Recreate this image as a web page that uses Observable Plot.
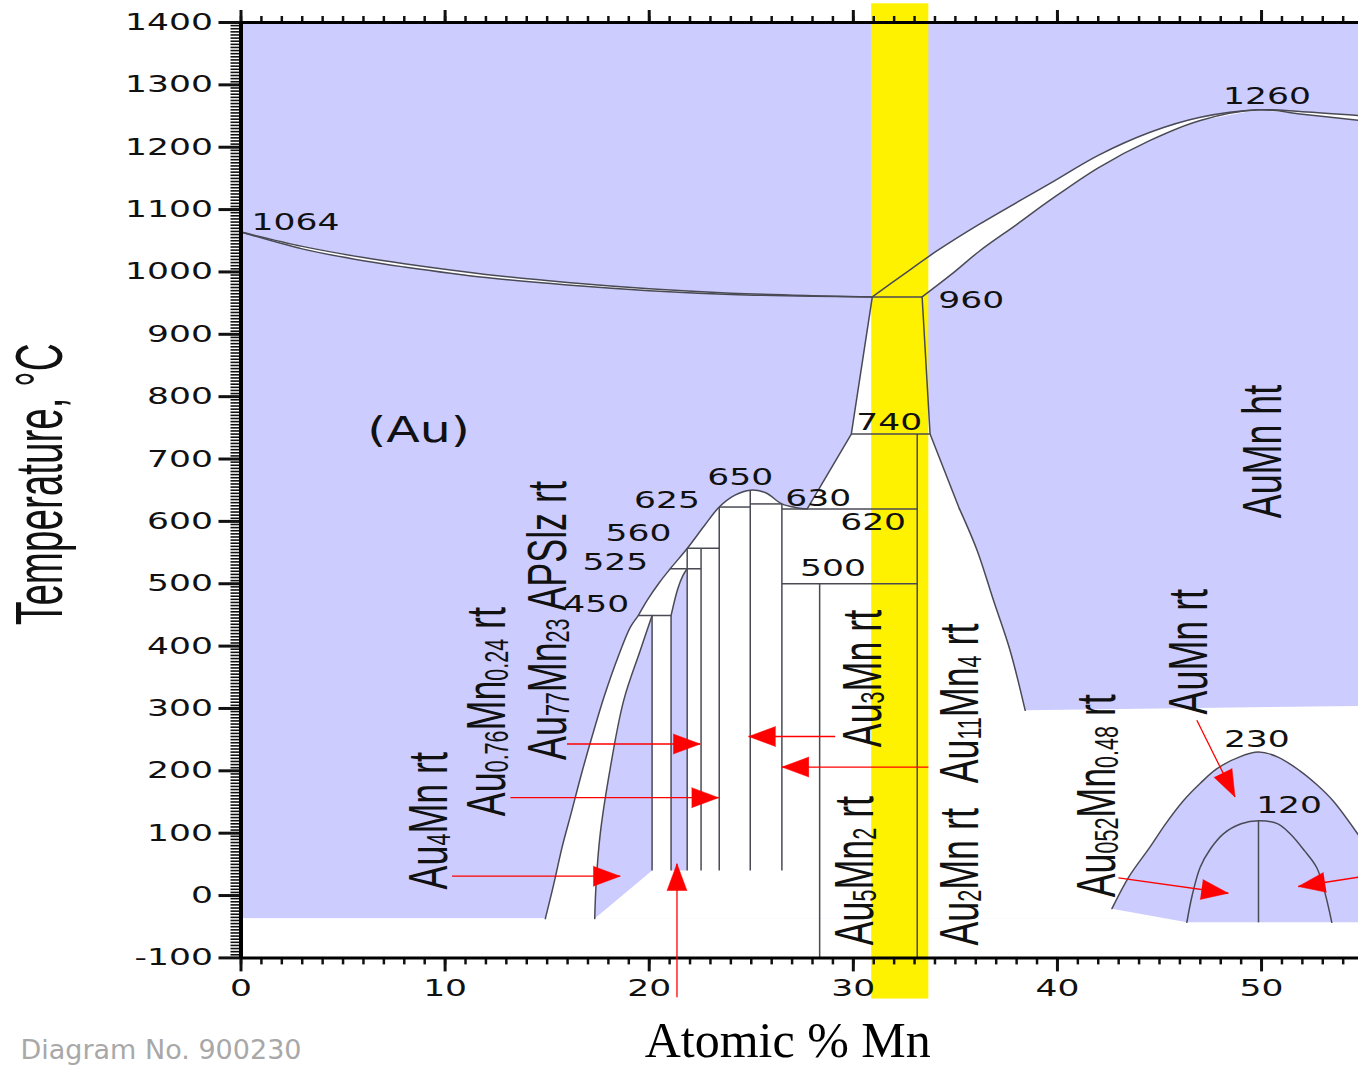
<!DOCTYPE html>
<html><head><meta charset="utf-8">
<script src="https://cdn.jsdelivr.net/npm/d3@7"></script>
<script src="https://cdn.jsdelivr.net/npm/@observablehq/plot@0.6"></script>
<style>html,body{margin:0;padding:0;background:#fff;overflow:hidden} svg{display:block}</style>
</head><body><div id="chart"></div>
<script>
// ---------- scale extents ----------
const xMax = 54.75;
const tMin = -100, tMax = 1400;

// ---------- region fills ----------
const bgX = [0, xMax];            // purple background
const bgT = [-37, 1400];
const yellowX = [30.9, 33.7];     // highlighted band
const yellowT = [-166, 1430];

// (Au) liquidus / solidus (left lens)
const auLiqX = [0, 3, 6, 8, 12, 16, 20, 24, 28, 30.93];
const auLiqT = [1064, 1041, 1023, 1013, 996, 983, 973, 966, 962, 960];
const auSolX = [0, 3, 6, 8, 12, 16, 20, 24, 28, 30.93];
const auSolT = [1064, 1037, 1018, 1008, 991, 979, 970, 964, 961, 960];

// AuMn ht liquidus / solidus (right lens)
const htLiqX = [30.93, 32.5, 34.11, 36.2, 39.64, 42.0, 44.54, 47.0, 49.85, 52.0, 54.75];
const htLiqT = [960, 997, 1034, 1077, 1142, 1187, 1224, 1248, 1260, 1257, 1251];
const htSolX = [33.37, 34.8, 36.2, 38.0, 39.64, 42.0, 44.54, 47.0, 49.85, 52.0, 54.75];
const htSolT = [960, 996, 1034, 1076, 1115, 1167, 1211, 1243, 1260, 1253, 1243];

// outer (Au) boundary of the ordered dome
const domeAX = [14.91, 15.3, 15.75, 16.2, 16.63, 17.2, 17.8, 18.5, 19.07, 19.46, 19.89, 20.5, 21.03, 21.87, 22.7, 23.43, 24.2, 24.95, 25.7, 26.5, 27.2, 27.74];
const domeAT = [-37, 15, 80, 135, 189, 255, 320, 385, 430, 449, 473, 502, 524, 557, 593, 623, 642, 650, 646, 628, 622, 620];
// (Au) boundary up to 960
const auEdgeX = [27.74, 29.9, 30.93];
const auEdgeT = [620, 740, 960];
// AuMn ht boundary from 960 down to ~300
const htEdgeX = [33.37, 33.76, 35.2, 36.07, 36.87, 37.68, 38.42];
const htEdgeT = [960, 740, 620, 553, 473, 393, 297];
const htBaseX = [54.75, 54.75];
const htBaseT = [304, -37];

// inner curve (purple pocket 1)
const p1X = [17.33, 17.4, 17.6, 18.1, 18.75, 19.56, 20.14];
const p1T = [-37, 20, 99, 206, 313, 393, 449];
const p1BaseX = [20.14];
const p1BaseT = [40];
// purple pocket 2
const p2X = [21.07, 21.4, 21.65, 21.86];
const p2T = [449, 492, 513, 524];
const p2BaseX = [21.86, 21.07];
const p2BaseT = [40, 40];

// AuMn rt dome (outer 230, inner 120)
const rtOuterX = [42.67, 43.5, 44.54, 45.3, 46.17, 47.0, 47.8, 48.9, 49.85, 50.8, 51.88, 52.7, 53.5, 54.75];
const rtOuterT = [-21, 30, 78, 115, 152, 180, 203, 222, 230, 222, 200, 178, 152, 97];
const rtBaseX = [54.75, 46.34];
const rtBaseT = [-43, -43];
const rtInnerX = [46.34, 46.6, 46.99, 47.5, 48.13, 49.0, 49.85, 50.8, 51.4, 52.1, 52.7, 53.1, 53.44];
const rtInnerT = [-43, 0, 45, 75, 99, 115, 120, 115, 99, 72, 45, 5, -43];

// horizontal invariant lines
const hX1 = [30.93, 29.9, 26.5, 26.5, 24.95, 23.43, 21.86, 21.03, 19.46];
const hX2 = [33.37, 33.76, 33.13, 33.13, 26.5, 24.95, 23.43, 22.54, 21.07];
const hT  = [960, 740, 620, 500, 628, 623, 557, 524, 449];
// vertical compound lines
const vX  = [20.14, 21.07, 21.86, 22.54, 23.43, 24.95, 26.5, 28.35, 33.13, 49.85];
const vT1 = [449, 449, 557, 557, 623, 650, 628, 500, 740, 120];
const vT2 = [40, 40, 40, 40, 40, 40, 40, -100, -100, -43];

// red arrows
const arrX1 = [10.34, 13.2, 15.97, 21.36, 29.11, 33.68, 46.83, 42.99, 54.73];
const arrT1 = [31, 157, 243, -163, 255, 206, 281, 28.4, 29.4];
const arrX2 = [18.58, 23.4, 22.5, 21.36, 24.87, 26.5, 48.7, 48.37, 51.8];
const arrT2 = [31, 157, 243, 51, 255, 206, 158, 3.7, 14.5];

// numeric labels
const numText = ["1064", "960", "1260", "740", "650", "625", "630", "620", "560", "525", "450", "500", "230", "120"];
const numX = [2.67, 35.78, 50.27, 31.76, 24.46, 20.87, 28.28, 30.97, 19.47, 18.34, 17.4, 29.0, 49.77, 51.35];
const numT = [1079, 954, 1281, 759, 670, 633, 637, 598, 581, 534, 467, 524, 250, 144];

// phase labels (rotated); {..} = subscript
const phaseText = ["Au{4}Mn rt", "Au{0.76}Mn{0.24} rt", "Au{77}Mn{23} APSlz rt", "Au{3}Mn rt", "Au{5}Mn{2} rt", "Au{11}Mn{4} rt", "Au{2}Mn rt", "Au{052}Mn{0.48} rt", "AuMn rt", "AuMn ht"];
const phaseX = [9.23, 12.07, 15.06, 30.46, 30.1, 35.24, 35.24, 41.95, 46.45, 50.07];
const phaseT = [120, 295, 441, 348, 40, 308, 30, 160, 391, 712];

const auLabel = ["(Au)"];
const auLabelX = [8.7];
const auLabelT = [746];

// axis ticks
const yMajor = d3.range(-100, 1401, 100);
const yMinor = d3.range(-100, 1401, 5);
const xMajor = [0, 10, 20, 30, 40, 50];
const xMinor = d3.range(0, 55, 1);

// ---------- helpers ----------
const pts = (X, T) => X.map((x, i) => ({x, t: T[i]}));
const xs = d3.scaleLinear([0, xMax], [240.5, 1358]);
const ys = d3.scaleLinear([tMin, tMax], [957.4, 22]);

const PURPLE = "#ccccff", LINE = "#4a4a55", RED = "#ff0000";

const wPoly = [...pts(domeAX, domeAT), ...pts(auEdgeX, auEdgeT).slice(1), ...pts(htEdgeX, htEdgeT), ...pts(htBaseX, htBaseT)];
const p1Poly = [...pts(p1X, p1T), ...pts(p1BaseX, p1BaseT)];
const p2Poly = [...pts(p2X, p2T), ...pts(p2BaseX, p2BaseT)];
const rtPoly = [...pts(rtOuterX, rtOuterT), ...pts(rtBaseX, rtBaseT)];
const auLens = [...pts(auLiqX, auLiqT), ...pts(auSolX, auSolT).reverse()];
const htLens = [...pts(htLiqX, htLiqT), ...pts(htSolX, htSolT).reverse()];

const hLines = hT.map((t, i) => ({x1: hX1[i], x2: hX2[i], t}));
const vLines = vX.map((x, i) => ({x, t1: vT1[i], t2: vT2[i]}));
const arrows = arrX1.map((x1, i) => {
  const dx = xs(arrX2[i]) - xs(x1), dy = ys(arrT2[i]) - ys(arrT1[i]);
  return {x1, t1: arrT1[i], x2: arrX2[i], t2: arrT2[i], rot: Math.atan2(dx, -dy) * 180 / Math.PI};
});
const nums = numText.map((s, i) => ({s, x: numX[i], t: numT[i]}));
const phases = phaseText.map((s, i) => ({s, x: phaseX[i], t: phaseT[i]}));

const fillPoly = (data, fill) => Plot.line(data, {x: "x", y: "t", fill, stroke: "none", curve: "linear"});
const curve = (X, T) => Plot.line(pts(X, T), {x: "x", y: "t", stroke: LINE, strokeWidth: 1.5, curve: "catmull-rom"});
const poly = (X, T) => Plot.line(pts(X, T), {x: "x", y: "t", stroke: LINE, strokeWidth: 1.5, curve: "linear"});

const svg = Plot.plot({
  width: 1358, height: 1066,
  marginLeft: 240.5, marginRight: 0, marginTop: 22, marginBottom: 108.6,
  x: {domain: [0, xMax], range: [240.5, 1358], label: null},
  y: {domain: [tMin, tMax], range: [957.4, 22], label: null},
  style: {fontFamily: "DejaVu Sans", fontSize: "23.5px", background: "#fff", color: "#111"},
  marks: [
    Plot.rect([0], {x1: () => bgX[0], x2: () => bgX[1], y1: () => bgT[0], y2: () => bgT[1], fill: PURPLE}),
    fillPoly(wPoly, "#fff"),
    fillPoly(p1Poly, PURPLE),
    fillPoly(p2Poly, PURPLE),
    fillPoly(rtPoly, PURPLE),
    fillPoly(auLens, "#fff"),
    fillPoly(htLens, "#fff"),
    Plot.rect([0], {x1: () => yellowX[0], x2: () => yellowX[1], y1: () => yellowT[0], y2: () => yellowT[1], fill: "#fff200"}),
    // boundaries
    curve(auLiqX, auLiqT), curve(auSolX, auSolT),
    curve(htLiqX, htLiqT), curve(htSolX, htSolT),
    curve(domeAX, domeAT),
    poly(auEdgeX, auEdgeT),
    poly(htEdgeX.slice(0, 3), htEdgeT.slice(0, 3)),
    curve(htEdgeX.slice(2), htEdgeT.slice(2)),
    curve(p1X, p1T), curve(p2X, p2T),
    curve(rtOuterX, rtOuterT), curve(rtInnerX, rtInnerT),
    Plot.link(hLines, {x1: "x1", x2: "x2", y1: "t", y2: "t", stroke: LINE, strokeWidth: 1.5}),
    Plot.link(vLines, {x1: "x", x2: "x", y1: "t1", y2: "t2", stroke: LINE, strokeWidth: 1.5}),
    // axes
    Plot.axisY(yMinor, {anchor: "left", tickSize: 10, tickFormat: () => "", strokeWidth: 1.6, label: null}),
    Plot.axisY(yMajor, {anchor: "left", tickSize: 22, tickPadding: 6, tickFormat: d => String(d), strokeWidth: 3, label: null}),
    Plot.axisX(xMinor, {anchor: "bottom", tickSize: 7, tickFormat: () => "", strokeWidth: 2.5, label: null}),
    Plot.axisX(xMajor, {anchor: "bottom", tickSize: 14, tickPadding: 7, tickFormat: d => String(d), strokeWidth: 3, label: null}),
    Plot.axisX(xMinor, {anchor: "top", tickSize: 7, tickFormat: () => "", strokeWidth: 2.5, label: null}),
    Plot.axisX(xMajor, {anchor: "top", tickSize: 13, tickFormat: () => "", strokeWidth: 3, label: null}),
    Plot.ruleX([0], {y1: tMin, y2: tMax, strokeWidth: 4, stroke: "#000"}),
    Plot.ruleY([tMin, tMax], {x1: 0, x2: xMax, strokeWidth: 3, stroke: "#000"}),
    // arrows
    Plot.link(arrows, {x1: "x1", y1: "t1", x2: "x2", y2: "t2", stroke: RED, strokeWidth: 1.3}),
    Plot.vector(arrows, {x: "x2", y: "t2", rotate: "rot", length: 27, r: 10, shape: "spike", anchor: "end", fill: RED, stroke: RED, strokeWidth: 0.5}),
    // labels
    Plot.text(nums, {x: "x", y: "t", text: "s", fontFamily: "DejaVu Sans", fontSize: 23.5, fill: "#111", textAnchor: "middle", lineAnchor: "middle"}),
    Plot.text(auLabel.map((s, i) => ({s, x: auLabelX[i], t: auLabelT[i]})), {x: "x", y: "t", text: "s", fontFamily: "DejaVu Sans", fontSize: 35, fill: "#111", textAnchor: "middle", lineAnchor: "middle"}),
    Plot.text(phases, {x: "x", y: "t", text: "s", rotate: -90, fontFamily: "Liberation Sans", fontSize: 56, fill: "#111", textAnchor: "middle", lineAnchor: "middle"}),
    Plot.text(["Temperature, °C"], {text: d => d, frameAnchor: "left", dx: -200.5, dy: -6, rotate: -90, textAnchor: "middle", lineAnchor: "middle", fontFamily: "Liberation Sans", fontSize: 66, fill: "#111"}),
    Plot.text(["Atomic % Mn"], {text: d => d, frameAnchor: "bottom", dx: -12, dy: 98.6, textAnchor: "middle", lineAnchor: "bottom", fontFamily: "Liberation Serif", fontSize: 50, fill: "#000"}),
    Plot.text(["Diagram No. 900230"], {text: d => d, frameAnchor: "bottom-left", dx: -220.5, dy: 92.6, textAnchor: "start", lineAnchor: "middle", fontFamily: "DejaVu Sans", fontSize: 27, fill: "#a8a8a8"})
  ]
});

// ---------- text styling (stretch / condense, subscripts) ----------
function scaleText(el, sx) {
  let tr = el.getAttribute("transform") || "";
  let tx = 0, ty = 0, move = false;
  const xa = el.getAttribute("x"), ya = el.getAttribute("y");
  if (xa != null && !/em$/.test(xa)) { tx = +xa || 0; el.removeAttribute("x"); move = true; }
  if (ya != null && !/em$/.test(ya)) { ty = +ya || 0; el.removeAttribute("y"); move = true; }
  if (move) tr += ` translate(${tx},${ty})`;
  el.setAttribute("transform", (tr + ` scale(${sx},1)`).trim());
}
function rich(el, s) {
  const ns = "http://www.w3.org/2000/svg";
  el.textContent = "";
  let prevSub = false;
  for (const p of s.split(/(\{[^}]*\})/).filter(p => p.length)) {
    const isSub = p.startsWith("{");
    const t = document.createElementNS(ns, "tspan");
    t.textContent = isSub ? p.slice(1, -1) : p;
    if (isSub) { t.style.fontSize = "0.6em"; if (!prevSub) t.setAttribute("dy", 3); }
    else if (prevSub) t.setAttribute("dy", -3);
    el.appendChild(t);
    prevSub = isSub;
  }
}
svg.querySelectorAll("text").forEach(el => {
  const s = el.textContent;
  if (!s) return;
  if (/^-?\d+$/.test(s)) scaleText(el, 1.47);
  else if (s === "(Au)") scaleText(el, 1.4);
  else if (s.startsWith("Temperature")) scaleText(el, 0.585);
  else if (/(rt|ht)$/.test(s)) { rich(el, s); scaleText(el, 0.64); }
});

document.getElementById("chart").appendChild(svg);
</script></body></html>
